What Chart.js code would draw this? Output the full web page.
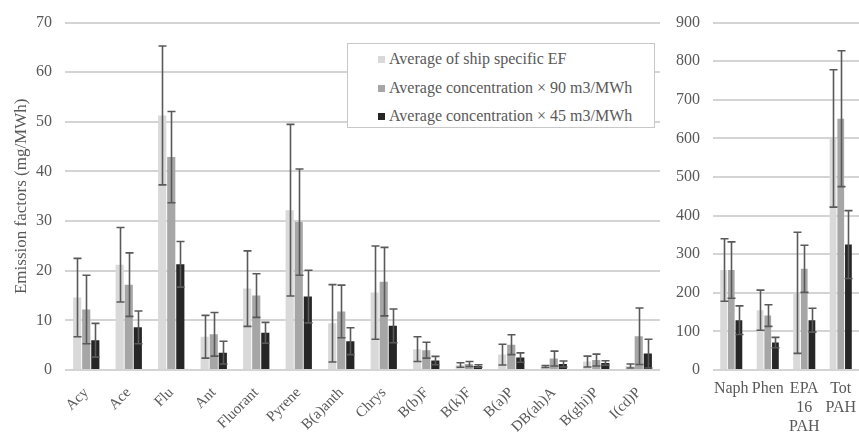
<!DOCTYPE html>
<html>
<head>
<meta charset="utf-8">
<script src="https://cdn.jsdelivr.net/npm/chart.js@4/dist/chart.umd.min.js"></script>
<style>
  html, body { margin: 0; padding: 0; background: #ffffff; }
  #wrap { position: relative; width: 859px; height: 435px; overflow: hidden; background: #fff; }
  #left { position: absolute; left: 0; top: 0; }
  #right { position: absolute; left: 665px; top: 0; }
  #legend {
    position: absolute; left: 347px; top: 43px; width: 308px; height: 85px;
    border: 1px solid #c8c8c8; background: #fff; box-sizing: border-box;
    font-family: 'Liberation Serif', 'Times New Roman', serif; font-size: 16px; color: #595959;
  }
  .row { position: absolute; left: 30px; height: 18px; line-height: 18px; white-space: nowrap; }
  .sw { display: inline-block; width: 7px; height: 7px; margin-right: 4px; vertical-align: 1px; }
</style>
</head>
<body>
<div id="wrap">
  <canvas id="left" width="668" height="435"></canvas>
  <canvas id="right" width="194" height="435"></canvas>
  <div id="legend"></div>
</div>
<script>
// ---- Data ----
const seriesNames = ['Average of ship specific EF', 'Average concentration \u00d7 90 m3/MWh', 'Average concentration \u00d7 45 m3/MWh'];
const seriesColors = ['#d9d9d9', '#a6a6a6', '#262626'];

const categoriesLeft = ['Acy','Ace','Flu','Ant','Fluorant','Pyrene','B(a)anth','Chrys','B(b)F','B(k)F','B(a)P','DB(ah)A','B(ghi)P','I(cd)P'];
const shipEF      = [14.6, 21.2, 51.3, 6.7, 16.4, 32.2, 9.4, 15.6, 4.2, 1.0, 3.1, 0.7, 1.7, 0.8];
const shipEFErr   = [7.9, 7.5, 14.0, 4.3, 7.6, 17.3, 7.8, 9.4, 2.5, 0.45, 2.1, 0.2, 1.1, 0.4];
const conc90      = [12.2, 17.2, 42.9, 7.2, 15.0, 29.8, 11.8, 17.8, 4.0, 1.2, 5.1, 2.3, 2.0, 6.8];
const conc90Err   = [6.9, 6.4, 9.2, 4.4, 4.4, 10.7, 5.3, 6.9, 1.6, 0.5, 2.0, 1.5, 1.2, 5.7];
const conc45      = [6.0, 8.6, 21.3, 3.5, 7.5, 14.8, 5.8, 8.9, 1.9, 0.8, 2.5, 1.2, 1.4, 3.3];
const conc45Err   = [3.4, 3.3, 4.6, 2.3, 2.1, 5.3, 2.7, 3.4, 0.85, 0.25, 0.95, 0.6, 0.45, 2.9];

const categoriesRight = ['Naph', 'Phen', ['EPA', '16', 'PAH'], ['Tot', 'PAH']];
const shipEFR     = [259, 155, 200, 600];
const shipEFRErr  = [81, 52, 157, 178];
const conc90R     = [259, 141, 262, 651];
const conc90RErr  = [73, 28, 61, 176];
const conc45R     = [129, 71, 129, 325];
const conc45RErr  = [37, 13.5, 31, 88];

const yTitle = 'Emission factors (mg/MWh)';
const leftMax = 70, leftStep = 10;
const rightMax = 900, rightStep = 100;

// ---- Styling ----
const FONT = "'Liberation Serif', 'Times New Roman', serif";
const TXT = '#595959';
const GRID = '#d4d4d4';

const errorBars = {
  id: 'errorBars',
  afterDatasetsDraw(chart) {
    const ctx = chart.ctx;
    const ys = chart.scales.y;
    ctx.save();
    ctx.strokeStyle = '#595959';
    ctx.lineWidth = 1.6;
    chart.data.datasets.forEach((ds, i) => {
      const meta = chart.getDatasetMeta(i);
      meta.data.forEach((el, j) => {
        const v = ds.data[j], e = ds.errors[j];
        const yT = ys.getPixelForValue(v + e);
        const yB = ys.getPixelForValue(Math.max(0, v - e));
        const x = Math.round(el.x) + 0.5;
        ctx.beginPath();
        ctx.moveTo(x, yT); ctx.lineTo(x, yB);
        ctx.moveTo(x - 4, yT); ctx.lineTo(x + 4, yT);
        ctx.moveTo(x - 4, yB); ctx.lineTo(x + 4, yB);
        ctx.stroke();
      });
    });
    ctx.restore();
  }
};

function makeDatasets(vals, errs, barPct, catPct) {
  return vals.map((v, i) => ({
    label: seriesNames[i],
    data: v,
    errors: errs[i],
    backgroundColor: seriesColors[i],
    borderWidth: 0,
    barPercentage: barPct,
    categoryPercentage: catPct
  }));
}

Chart.defaults.font.family = FONT;
Chart.defaults.color = TXT;

new Chart(document.getElementById('left'), {
  type: 'bar',
  data: {
    labels: categoriesLeft,
    datasets: makeDatasets([shipEF, conc90, conc45], [shipEFErr, conc90Err, conc45Err], 0.9, 0.64)
  },
  options: {
    responsive: false,
    devicePixelRatio: 1,
    animation: false,
    layout: { padding: { top: 17, right: 8, left: 0, bottom: 0 } },
    plugins: { legend: { display: false }, tooltip: { enabled: false } },
    scales: {
      x: {
        grid: { display: false },
        border: { display: false },
        ticks: { font: { size: 15 }, color: TXT, minRotation: 45, maxRotation: 45, autoSkip: false, padding: 6 },
        afterFit: (s) => { s.height = 65; }
      },
      y: {
        min: 0, max: leftMax,
        ticks: { stepSize: leftStep, font: { size: 16 }, color: TXT, padding: 13 },
        grid: { color: GRID, lineWidth: 2, drawTicks: false },
        border: { display: false },
        title: { display: true, text: yTitle, font: { size: 17 }, color: TXT, padding: { top: 11, bottom: 0 } },
        afterFit: (s) => { s.width = 65; }
      }
    }
  },
  plugins: [errorBars]
});

new Chart(document.getElementById('right'), {
  type: 'bar',
  data: {
    labels: categoriesRight,
    datasets: makeDatasets([shipEFR, conc90R, conc45R], [shipEFRErr, conc90RErr, conc45RErr], 0.88, 0.63)
  },
  options: {
    responsive: false,
    devicePixelRatio: 1,
    animation: false,
    layout: { padding: { top: 17, right: 0, left: 0, bottom: 0 } },
    plugins: { legend: { display: false }, tooltip: { enabled: false } },
    scales: {
      x: {
        grid: { display: false },
        border: { display: false },
        ticks: { font: { size: 16, lineHeight: 1.2 }, color: TXT, minRotation: 0, maxRotation: 0, autoSkip: false, padding: 1 },
        afterFit: (s) => { s.height = 65; }
      },
      y: {
        min: 0, max: rightMax,
        ticks: { stepSize: rightStep, font: { size: 16 }, color: TXT, padding: 13 },
        grid: { color: GRID, lineWidth: 2, drawTicks: false },
        border: { display: false },
        afterFit: (s) => { s.width = 48; }
      }
    }
  },
  plugins: [errorBars]
});

// HTML legend
const leg = document.getElementById('legend');
seriesNames.forEach((n, i) => {
  const r = document.createElement('div');
  r.className = 'row';
  r.style.top = (6 + i * 28.7) + 'px';
  r.innerHTML = '<span class="sw" style="background:' + seriesColors[i] + '"></span>' + n;
  leg.appendChild(r);
});
</script>
</body>
</html>
